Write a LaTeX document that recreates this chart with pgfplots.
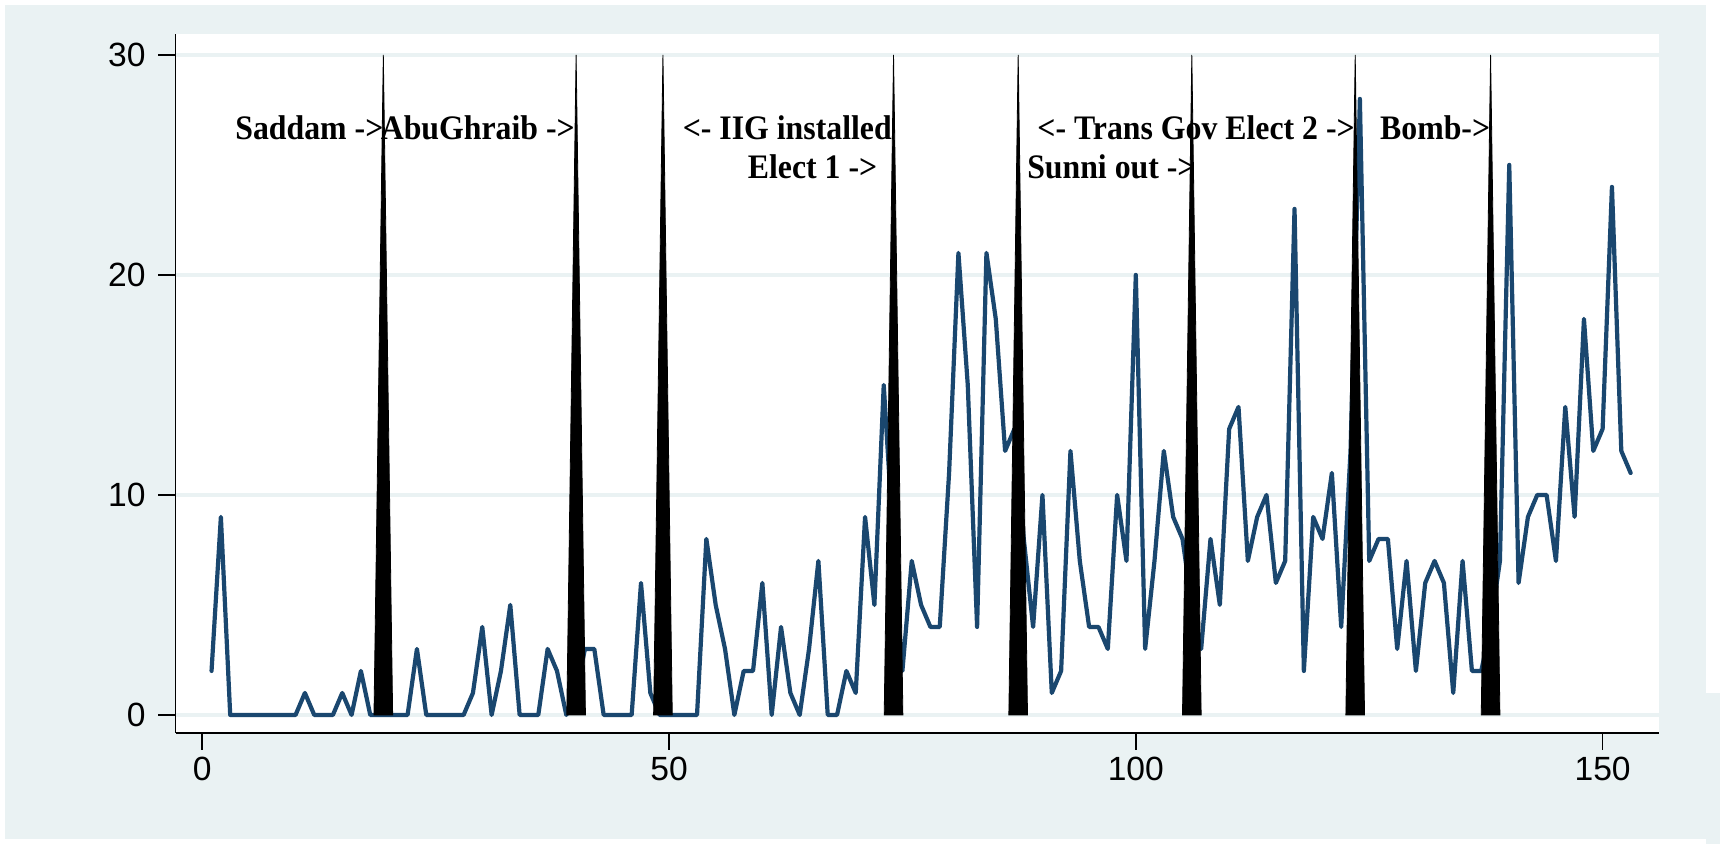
\documentclass[border=0pt]{standalone}
\usepackage{fontspec}
\setmainfont{Liberation Sans}
\newfontfamily\annfont{Liberation Serif}
\usepackage{pgfplots}
\usepackage{pgfplotstable}
\pgfplotsset{compat=1.18}
\definecolor{bluish}{RGB}{234,242,243}
\definecolor{stnavy}{RGB}{26,71,111}

\pgfplotstableread{
x y
1 2
2 9
3 0
4 0
5 0
6 0
7 0
8 0
9 0
10 0
11 1
12 0
13 0
14 0
15 1
16 0
17 2
18 0
19 0
20 0
21 0
22 0
23 3
24 0
25 0
26 0
27 0
28 0
29 1
30 4
31 0
32 2
33 5
34 0
35 0
36 0
37 3
38 2
39 0
40 1
41 3
42 3
43 0
44 0
45 0
46 0
47 6
48 1
49 0
50 0
51 0
52 0
53 0
54 8
55 5
56 3
57 0
58 2
59 2
60 6
61 0
62 4
63 1
64 0
65 3
66 7
67 0
68 0
69 2
70 1
71 9
72 5
73 15
74 8
75 2
76 7
77 5
78 4
79 4
80 11
81 21
82 15
83 4
84 21
85 18
86 12
87 13
88 8
89 4
90 10
91 1
92 2
93 12
94 7
95 4
96 4
97 3
98 10
99 7
100 20
101 3
102 7
103 12
104 9
105 8
106 5
107 3
108 8
109 5
110 13
111 14
112 7
113 9
114 10
115 6
116 7
117 23
118 2
119 9
120 8
121 11
122 4
123 12
124 28
125 7
126 8
127 8
128 3
129 7
130 2
131 6
132 7
133 6
134 1
135 7
136 2
137 2
138 4
139 7
140 25
141 6
142 9
143 10
144 10
145 7
146 14
147 9
148 18
149 12
150 13
151 24
152 12
153 11
}\deaths

\begin{document}
\begin{tikzpicture}
\fill[white] (0pt,0pt) rectangle (860pt,422pt);
\fill[bluish] (2.5pt,2.5pt) rectangle (853pt,419.5pt);
\fill[bluish] (853pt,0pt) rectangle (860pt,75.5pt);
\useasboundingbox (0pt,0pt) rectangle (860pt,422pt);
\begin{axis}[
 at={(87.75pt,55.5pt)}, anchor=south west,
 scale only axis, width=741.75pt, height=349.5pt,
 xmin=-2.86, xmax=156.04, ymin=-0.82, ymax=30.95,
 axis x line=bottom, axis y line=left,
 axis line style={-, line width=0.85pt, black},
 axis background/.style={fill=white},
 xtick={0,50,100,150}, ytick={0,10,20,30},
 tick align=outside, major tick length=8.5pt,
 tick style={line width=0.85pt, black},
 ymajorgrids, major grid style={bluish, line width=2.2pt},
 /pgf/number format/assume math mode=true,
 ticklabel style={font=\fontsize{16.8}{18}\selectfont, inner sep=0pt},
 yticklabel style={anchor=east, xshift=-6.25pt},
 xticklabel style={anchor=north, yshift=-3.5pt},
]
\addplot[stnavy, line width=2.1pt, line join=round, line cap=round, mark=none] table[x=x, y=y] {\deaths};

\addplot[fill=black, draw=black, line width=0.4pt, mark=none] coordinates {(18.4,0) (19.4,30) (20.4,0)} \closedcycle;
\addplot[fill=black, draw=black, line width=0.4pt, mark=none] coordinates {(39.05,0) (40.05,30) (41.05,0)} \closedcycle;
\addplot[fill=black, draw=black, line width=0.4pt, mark=none] coordinates {(48.35,0) (49.35,30) (50.35,0)} \closedcycle;
\addplot[fill=black, draw=black, line width=0.4pt, mark=none] coordinates {(73.05,0) (74.05,30) (75.05,0)} \closedcycle;
\addplot[fill=black, draw=black, line width=0.4pt, mark=none] coordinates {(86.4,0) (87.4,30) (88.4,0)} \closedcycle;
\addplot[fill=black, draw=black, line width=0.4pt, mark=none] coordinates {(105.0,0) (106.0,30) (107.0,0)} \closedcycle;
\addplot[fill=black, draw=black, line width=0.4pt, mark=none] coordinates {(122.5,0) (123.5,30) (124.5,0)} \closedcycle;
\addplot[fill=black, draw=black, line width=0.4pt, mark=none] coordinates {(137.0,0) (138.0,30) (139.0,0)} \closedcycle;

\begin{scope}[every node/.style={font=\annfont\bfseries\fontsize{15.9}{17}\selectfont, anchor=base east, inner sep=0pt, yscale=1.08}]
\node at (axis cs:19.45,26.14) {Saddam ->};
\node at (axis cs:39.95,26.14) {AbuGhraib ->};
\node at (axis cs:73.9,26.14) {<- IIG installed};
\node at (axis cs:72.35,24.4) {Elect 1 ->};
\node at (axis cs:123.5,26.14) {<- Trans Gov Elect 2 ->};
\node at (axis cs:106.45,24.4) {Sunni out ->};
\node at (axis cs:138.0,26.14) {Bomb->};
\end{scope}
\end{axis}
\end{tikzpicture}
\end{document}
